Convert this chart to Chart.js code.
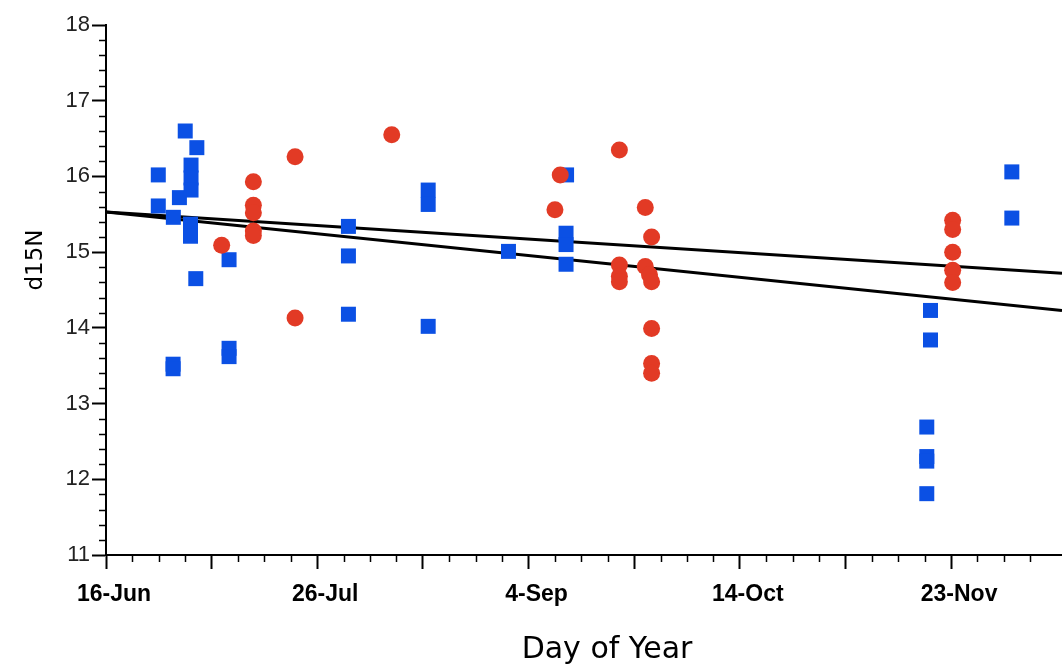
<!DOCTYPE html>
<html>
<head>
<meta charset="utf-8">
<script src="https://cdn.jsdelivr.net/npm/chart.js@4.4.1/dist/chart.umd.min.js"></script>
<style>
  html, body { margin: 0; padding: 0; background: #ffffff; }
  #wrap { width: 1062px; height: 669px; }
</style>
</head>
<body>
<div id="wrap"><canvas id="c" width="1062" height="669"></canvas></div>
<script>
// ---- data (days after 16-Jun, d15N) ----
const tickDates = ['16-Jun', '26-Jul', '4-Sep', '14-Oct', '23-Nov'];   // every 40 days from day 0
const blueDay = [9.9, 9.9, 15.0, 17.2, 16.1, 16.1, 16.1, 13.9, 12.75, 16.0, 16.0, 23.3, 17.0, 12.7, 12.7, 23.3, 23.3,
                 45.9, 45.9, 45.9, 61.0, 61.0, 61.0, 76.2, 87.2, 87.1, 87.1, 87.1,
                 156.1, 156.1, 155.4, 155.4, 155.4, 155.4, 171.5, 171.5];
const blueN15 = [16.02, 15.61, 16.60, 16.38, 16.15, 15.98, 15.82, 15.72, 15.46, 15.37, 15.21, 14.90, 14.65, 13.52, 13.46, 13.73, 13.62,
                 15.34, 14.95, 14.18, 15.82, 15.63, 14.02, 15.01, 16.02, 15.25, 15.10, 14.84,
                 14.23, 13.84, 12.69, 12.30, 12.24, 11.81, 16.06, 15.45];
const redDay = [21.9, 27.9, 27.9, 27.9, 27.9, 27.9, 35.8, 35.8, 54.1, 86.0, 85.0,
                97.2, 97.2, 97.2, 97.2, 102.1, 102.1, 103.3, 102.9, 103.3, 103.3, 103.3, 103.3,
                160.3, 160.3, 160.3, 160.3, 160.3];
const redN15 = [15.09, 15.93, 15.62, 15.52, 15.28, 15.22, 16.26, 14.13, 16.55, 16.02, 15.56,
                16.35, 14.83, 14.68, 14.61, 15.59, 14.81, 15.20, 14.70, 14.61, 13.99, 13.53, 13.40,
                15.42, 15.30, 15.00, 14.76, 14.60];
const lineDay = [0, 181];
const lineUpper = [15.53, 14.72];
const lineLower = [15.53, 14.23];

const pts = (xs, ys) => xs.map((x, i) => ({ x: x, y: ys[i] }));

const minorTicks = {
  id: 'minorTicks',
  afterDraw(chart) {
    const ctx = chart.ctx, xs = chart.scales.x, ys = chart.scales.y;
    ctx.save();
    ctx.strokeStyle = '#000';
    ctx.lineWidth = 1.5;
    ctx.beginPath();
    for (let d = 5; d <= 180; d += 5) {
      if (d % 20 === 0) continue;
      const px = Math.round(xs.getPixelForValue(d)) + 0.5;
      ctx.moveTo(px, xs.top);
      ctx.lineTo(px, xs.top + 7);
    }
    for (let i = 1; i < 35; i++) {
      if (i % 5 === 0) continue;
      const py = Math.round(ys.getPixelForValue(11 + i * 0.2)) + 0.5;
      ctx.moveTo(ys.right - 7, py);
      ctx.lineTo(ys.right, py);
    }
    ctx.stroke();
    ctx.restore();
  }
};

const axisTitles = {
  id: 'axisTitles',
  afterDraw(chart) {
    const ctx = chart.ctx, a = chart.chartArea;
    ctx.save();
    ctx.fillStyle = '#000';
    ctx.textAlign = 'center';
    ctx.textBaseline = 'middle';
    ctx.font = '30px "DejaVu Sans"';
    ctx.fillText('Day of Year', (a.left + a.right) / 2 + 23, 650);
    ctx.translate(36, (a.top + a.bottom) / 2 - 30);
    ctx.rotate(-Math.PI / 2);
    ctx.font = '23px "DejaVu Sans"';
    ctx.fillText('d15N', 0, 0);
    ctx.restore();
  }
};

Chart.defaults.font.family = '"Liberation Sans", Arial, sans-serif';

new Chart(document.getElementById('c'), {
  type: 'scatter',
  data: {
    datasets: [
      { type: 'line', data: pts(lineDay, lineUpper), borderColor: '#000', borderWidth: 3, pointRadius: 0, fill: false, order: 3 },
      { type: 'line', data: pts(lineDay, lineLower), borderColor: '#000', borderWidth: 3, pointRadius: 0, fill: false, order: 3 },
      { data: pts(blueDay, blueN15), pointStyle: 'rect', pointRadius: 10.6, backgroundColor: '#0B50E4', borderWidth: 0, order: 2 },
      { data: pts(redDay, redN15), pointStyle: 'circle', pointRadius: 8.5, backgroundColor: '#E23A25', borderWidth: 0, order: 1 }
    ]
  },
  options: {
    responsive: false,
    animation: false,
    devicePixelRatio: 1,
    layout: { autoPadding: false, padding: { top: 25, left: 0, right: 0, bottom: 0 } },
    plugins: { legend: { display: false }, tooltip: { enabled: false } },
    scales: {
      x: {
        type: 'linear', min: 0, max: 181, position: 'bottom',
        afterFit: s => { s.height = 114; s.paddingLeft = 0; s.paddingRight = 0; },
        border: { color: '#000', width: 2 },
        grid: {
          drawOnChartArea: false, tickLength: 14, tickWidth: 2,
          tickColor: c => (c.tick && Math.abs(c.tick.value % 20) < 1e-6) ? '#000' : 'rgba(0,0,0,0)'
        },
        ticks: {
          stepSize: 20, autoSkip: false, maxRotation: 0, padding: 12, labelOffset: 8, color: '#000',
          font: { size: 23, weight: 'bold' },
          callback: v => (v % 40 === 0 ? tickDates[v / 40] : '')
        }
      },
      y: {
        min: 11, max: 18,
        afterFit: s => { s.width = 106; },
        border: { color: '#000', width: 2 },
        grid: { drawOnChartArea: false, tickLength: 14, tickWidth: 2, tickColor: '#000' },
        ticks: { stepSize: 1, padding: 2, color: '#222', font: { size: 22 } }
      }
    }
  },
  plugins: [minorTicks, axisTitles]
});
</script>
</body>
</html>
